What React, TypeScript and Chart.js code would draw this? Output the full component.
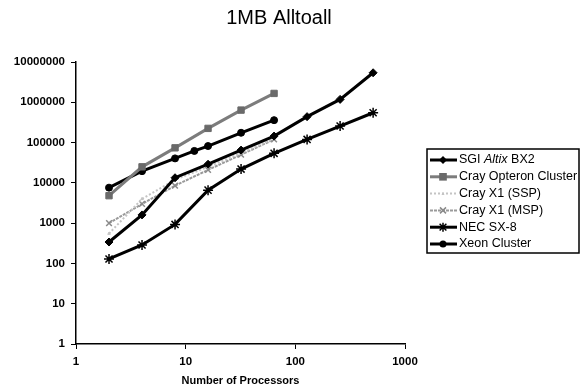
import React, { useEffect, useRef } from "react";
import { Chart, registerables } from "chart.js";

Chart.register(...registerables);

const titleText = "1MB Alltoall";
const xAxisTitle = "Number of Processors";
const xTicks = [1, 10, 100, 1000];
const yTicks = [1, 10, 100, 1000, 10000, 100000, 1000000, 10000000];

const sgiX = [2, 4, 8, 16, 32, 64, 128, 256, 512];
const sgiY = [340, 1600, 13400, 29000, 65000, 145000, 440000, 1180000, 5400000];

const opteronX = [2, 4, 8, 16, 32, 64];
const opteronY = [4800, 25000, 74000, 225000, 640000, 1660000];

const sspX = [2, 4, 8, 16, 32, 64];
const sspY = [550, 4000, 12000, 25000, 55000, 125000];

const mspX = [2, 4, 8, 16, 32, 64];
const mspY = [1000, 3000, 8500, 21000, 50000, 120000];

const necX = [2, 4, 8, 16, 32, 64, 128, 256, 512];
const necY = [129, 287, 930, 6600, 22000, 54000, 120000, 257000, 550000];

const xeonX = [2, 4, 8, 12, 16, 32, 64];
const xeonY = [7600, 19500, 40500, 62000, 82000, 175000, 360000];

const FONT = "'Liberation Sans', Arial, sans-serif";

type Series = {
  label: string;
  xs: number[];
  ys: number[];
  color: string;
  width: number;
  dash: number[];
  pointStyle: string;
  radius: number;
  pointColor: string;
  pointBorder: number;
};

const series: Series[] = [
  { label: "SGI Altix BX2", xs: sgiX, ys: sgiY, color: "#000000", width: 3, dash: [], pointStyle: "rectRot", radius: 4, pointColor: "#000000", pointBorder: 1 },
  { label: "Cray Opteron Cluster", xs: opteronX, ys: opteronY, color: "#7c7c7c", width: 3, dash: [], pointStyle: "rect", radius: 4.5, pointColor: "#6a6a6a", pointBorder: 1 },
  { label: "Cray X1 (SSP)", xs: sspX, ys: sspY, color: "#c4c4c4", width: 2, dash: [2, 2], pointStyle: "triangle", radius: 1.5, pointColor: "#c4c4c4", pointBorder: 1 },
  { label: "Cray X1 (MSP)", xs: mspX, ys: mspY, color: "#9a9a9a", width: 2, dash: [3, 1], pointStyle: "crossRot", radius: 4, pointColor: "#8a8a8a", pointBorder: 1.5 },
  { label: "NEC SX-8", xs: necX, ys: necY, color: "#000000", width: 3, dash: [], pointStyle: "star", radius: 5, pointColor: "#000000", pointBorder: 1.5 },
  { label: "Xeon Cluster", xs: xeonX, ys: xeonY, color: "#000000", width: 3, dash: [], pointStyle: "circle", radius: 3.5, pointColor: "#000000", pointBorder: 1 },
];

function drawMarker(ctx: CanvasRenderingContext2D, style: string, x: number, y: number, r: number, color: string, bw: number) {
  ctx.save();
  ctx.fillStyle = color;
  ctx.strokeStyle = color;
  ctx.lineWidth = bw;
  ctx.setLineDash([]);
  ctx.beginPath();
  if (style === "rectRot") {
    ctx.moveTo(x, y - r);
    ctx.lineTo(x + r, y);
    ctx.lineTo(x, y + r);
    ctx.lineTo(x - r, y);
    ctx.closePath();
    ctx.fill();
  } else if (style === "rect") {
    const s = r * 0.85;
    ctx.rect(x - s, y - s, 2 * s, 2 * s);
    ctx.fill();
  } else if (style === "triangle") {
    ctx.moveTo(x, y - r);
    ctx.lineTo(x + r, y + r);
    ctx.lineTo(x - r, y + r);
    ctx.closePath();
    ctx.fill();
  } else if (style === "crossRot") {
    const s = r * 0.75;
    ctx.moveTo(x - s, y - s);
    ctx.lineTo(x + s, y + s);
    ctx.moveTo(x + s, y - s);
    ctx.lineTo(x - s, y + s);
    ctx.stroke();
  } else if (style === "star") {
    const s = r * 0.75;
    ctx.moveTo(x - s, y - s);
    ctx.lineTo(x + s, y + s);
    ctx.moveTo(x + s, y - s);
    ctx.lineTo(x - s, y + s);
    ctx.moveTo(x, y - r);
    ctx.lineTo(x, y + r);
    ctx.stroke();
  } else {
    ctx.arc(x, y, r, 0, Math.PI * 2);
    ctx.fill();
  }
  ctx.restore();
}

const decorPlugin = {
  id: "decor",
  afterDraw(chart: any) {
    const ctx: CanvasRenderingContext2D = chart.ctx;
    const area = chart.chartArea;
    ctx.save();
    // title
    ctx.fillStyle = "#000";
    ctx.font = `20px ${FONT}`;
    ctx.textAlign = "center";
    ctx.textBaseline = "middle";
    ctx.fillText(titleText, 279, 18);
    // x axis title
    ctx.font = `bold 11px ${FONT}`;
    ctx.fillText(xAxisTitle, (area.left + area.right) / 2, 381);

    // legend
    const bx = 427, by = 149, bw = 152, bh = 104;
    ctx.fillStyle = "#fff";
    ctx.fillRect(bx, by, bw, bh);
    ctx.strokeStyle = "#000";
    ctx.lineWidth = 1.5;
    ctx.strokeRect(bx, by, bw, bh);
    const rowH = 16.8;
    series.forEach((s, i) => {
      const cy = by + 11 + i * rowH;
      ctx.save();
      ctx.strokeStyle = s.color;
      ctx.lineWidth = s.width;
      ctx.setLineDash(s.dash);
      ctx.beginPath();
      ctx.moveTo(bx + 3, cy);
      ctx.lineTo(bx + 30, cy);
      ctx.stroke();
      ctx.restore();
      drawMarker(ctx, s.pointStyle, bx + 16, cy, Math.min(s.radius, 4.5), s.pointColor, s.pointBorder);
      ctx.fillStyle = "#000";
      ctx.textAlign = "left";
      ctx.textBaseline = "middle";
      let tx = bx + 32;
      if (s.label === "SGI Altix BX2") {
        const parts: [string, boolean][] = [["SGI ", false], ["Altix", true], [" BX2", false]];
        parts.forEach(([t, it]) => {
          ctx.font = `${it ? "italic " : ""}12.5px ${FONT}`;
          ctx.fillText(t, tx, cy);
          tx += ctx.measureText(t).width;
        });
      } else {
        ctx.font = `12.5px ${FONT}`;
        ctx.fillText(s.label, tx, cy);
      }
    });
    ctx.restore();
  },
};

export default function App() {
  const ref = useRef<HTMLCanvasElement | null>(null);
  useEffect(() => {
    document.body.style.margin = "0";
    if (!ref.current) return;
    const chart = new Chart(ref.current, {
      type: "line",
      data: {
        datasets: series.map((s) => ({
          label: s.label,
          data: s.xs.map((x, i) => ({ x, y: s.ys[i] })),
          borderColor: s.color,
          backgroundColor: s.pointColor,
          borderWidth: s.width,
          borderDash: s.dash,
          pointStyle: s.pointStyle as any,
          pointRadius: s.radius,
          pointBackgroundColor: s.pointColor,
          pointBorderColor: s.pointColor,
          pointBorderWidth: s.pointBorder,
          tension: 0,
          fill: false,
          clip: false as any,
        })),
      },
      options: {
        responsive: false,
        animation: false,
        events: [],
        layout: { padding: { left: 0, right: 180, top: 62, bottom: 0 } },
        plugins: { legend: { display: false }, title: { display: false }, tooltip: { enabled: false } },
        scales: {
          x: {
            type: "logarithmic",
            min: 1,
            max: 1000,
            afterBuildTicks: (scale: any) => {
              scale.ticks = xTicks.map((v) => ({ value: v }));
            },
            afterFit: (scale: any) => {
              scale.height = 43;
            },
            ticks: {
              autoSkip: false,
              maxRotation: 0,
              padding: 6,
              color: "#000",
              font: { family: FONT, size: 11.5, weight: "bold" },
              callback: (v: any) => String(v),
            },
            grid: { display: true, drawOnChartArea: false, drawTicks: true, tickLength: 5, color: "#000", lineWidth: 1 },
            border: { display: true, color: "#000", width: 1.5 },
          },
          y: {
            type: "logarithmic",
            min: 1,
            max: 10000000,
            afterBuildTicks: (scale: any) => {
              scale.ticks = yTicks.map((v) => ({ value: v }));
            },
            afterFit: (scale: any) => {
              scale.width = 76;
            },
            ticks: {
              autoSkip: false,
              padding: 6,
              color: "#000",
              font: { family: FONT, size: 11.5, weight: "bold" },
              callback: (v: any) => String(v),
            },
            grid: { display: true, drawOnChartArea: false, drawTicks: true, tickLength: 5, color: "#000", lineWidth: 1 },
            border: { display: true, color: "#000", width: 1.5 },
          },
        },
      },
      plugins: [decorPlugin],
    });
    return () => chart.destroy();
  }, []);
  return <canvas ref={ref} width={585} height={387} style={{ display: "block" }} />;
}
